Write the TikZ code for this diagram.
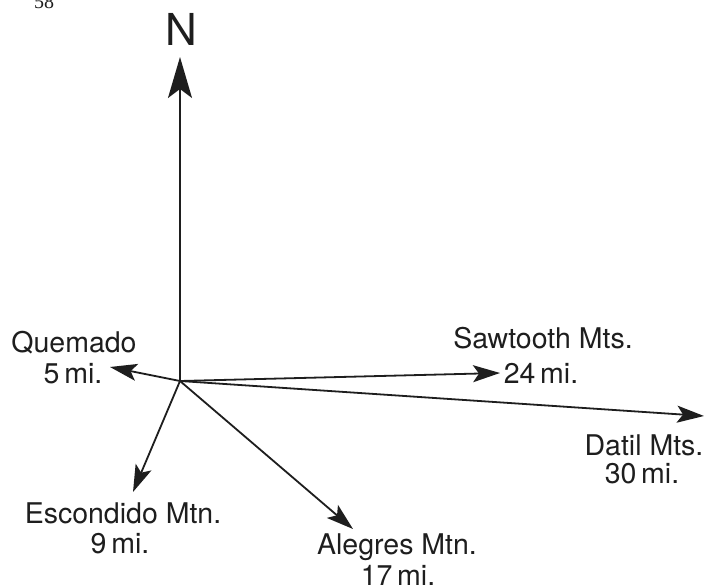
\documentclass[tikz,border=0pt]{standalone}
\usepackage{fontspec}
\setmainfont{TeX Gyre Heros}
\newfontfamily\pagenumfont{Liberation Serif}
\usetikzlibrary{arrows.meta}
\definecolor{ink}{HTML}{1E1E1E}
\tikzset{
  ray/.style={draw=ink, line width=1.8bp, -{Stealth[length=27bp, width=17bp, inset=6bp]}},
  bigray/.style={draw=ink, line width=1.8bp, -{Stealth[length=41bp, width=24bp, inset=9bp]}},
  lbl/.style={anchor=base, inner sep=0pt, text=ink, font=\fontsize{28.5bp}{31bp}\selectfont}
}
\begin{document}
\begin{tikzpicture}[x=1bp,y=-1bp]
\useasboundingbox (0,0) rectangle (706,588);
\fill[white] (0,0) rectangle (706,588);
% page number
\node[anchor=base, inner sep=0pt, text=ink, font=\pagenumfont\fontsize{20bp}{22bp}\selectfont] (pg) at (44,9) {58};
% origin and tips
\coordinate (O) at (180,381);
\coordinate (tN) at (180,57);
\coordinate (tQ) at (110,367);
\coordinate (tS) at (500,373);
\coordinate (tD) at (704,416);
\coordinate (tE) at (133,492);
\coordinate (tA) at (353,529);
% north
\node[anchor=center, inner sep=0pt, text=ink, font=\fontsize{44bp}{46bp}\selectfont] (N) at (181,29) {N};
\draw[bigray] (O) -- (tN);
% rays
\draw[ray] (O) -- (tQ);
\draw[ray] (O) -- (tS);
\draw[ray] (O) -- (tD);
\draw[ray] (O) -- (tE);
\draw[ray] (O) -- (tA);
% labels
\node[lbl] (q1) at (74,352) {Quemado};
\node[lbl] (q2) at (73,383) {5\,mi.};
\node[lbl] (s1) at (543,348) {Sawtooth Mts.};
\node[lbl] (s2) at (541,383) {24\,mi.};
\node[lbl] (d1) at (644,455) {Datil Mts.};
\node[lbl] (d2) at (642,483) {30\,mi.};
\node[lbl] (e1) at (123,523) {Escondido Mtn.};
\node[lbl] (e2) at (120,553) {9\,mi.};
\node[lbl] (a1) at (397,554) {Alegres Mtn.};
\node[lbl] (a2) at (398,585) {17\,mi.};
\end{tikzpicture}
\end{document}
